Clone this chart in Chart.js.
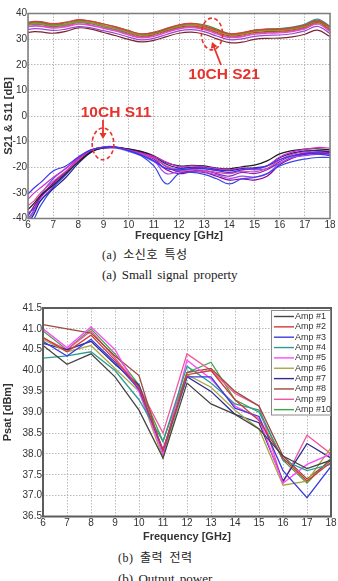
<!DOCTYPE html>
<html>
<head>
<meta charset="utf-8">
<script src="https://cdn.jsdelivr.net/npm/chart.js@4.4.1/dist/chart.umd.min.js"></script>
<style>
  html, body { margin: 0; padding: 0; background: #fff; width: 338px; height: 581px; overflow: hidden; position: relative; }
  .box { position: absolute; left: 0; width: 338px; }
  canvas { display: block; }
  .cap { position: absolute; white-space: nowrap; color: #222; font-family: "Liberation Serif", "Noto Sans CJK KR", serif; font-size: 13px; line-height: 13px; word-spacing: 2px; }
  .ko { font-size: 12px; letter-spacing: 0.5px; word-spacing: 3px; }
</style>
</head>
<body>
<div class="box" style="top:0;height:246px"><canvas id="chart-small"></canvas></div>
<div class="cap ko" style="left:102px;top:249px">(a) 소신호 특성</div>
<div class="cap" style="left:102px;top:268px">(a) Small signal property</div>
<div class="box" style="top:296px;height:250px"><canvas id="chart-psat"></canvas></div>
<div class="cap ko" style="left:118px;top:552px">(b) 출력 전력</div>
<div class="cap" style="left:118px;top:572px">(b) Output power</div>

<script>
// ---- (a) small signal, S21 / S11 of 10 channels ----
const freqSweep = [6, 6.25, 6.5, 7, 7.5, 8, 8.5, 9, 9.5, 10, 10.5, 11, 11.5, 12, 12.5, 13, 13.5, 14, 14.5, 15, 15.5, 16, 16.5, 17, 17.5, 18];

const s21Ch1  = [36.6, 36.9, 36.8, 36.1, 36.6, 37.6, 37.0, 35.9, 34.7, 33.2, 32.1, 32.7, 34.2, 35.6, 36.1, 35.2, 33.5, 32.1, 32.5, 33.5, 33.9, 34.0, 34.5, 35.6, 37.4, 34.8];
const s21Ch2  = [36.3, 36.6, 36.5, 35.8, 36.4, 37.4, 36.9, 35.9, 34.8, 33.3, 32.0, 32.5, 34.0, 35.5, 36.2, 35.6, 33.9, 32.2, 32.4, 33.4, 33.8, 33.9, 34.4, 35.4, 37.0, 34.9];
const s21Ch3  = [36.0, 36.3, 36.2, 35.5, 36.0, 37.0, 36.5, 35.4, 34.3, 32.8, 31.7, 32.3, 33.8, 35.2, 35.7, 34.9, 33.2, 31.8, 32.1, 33.1, 33.5, 33.6, 34.1, 35.2, 36.9, 34.5];
const s21Ch4  = [35.8, 36.1, 36.0, 35.3, 35.8, 36.8, 36.3, 35.2, 34.1, 32.6, 31.5, 32.1, 33.6, 35.0, 35.5, 34.7, 33.0, 31.6, 31.9, 32.9, 33.3, 33.4, 33.9, 35.0, 36.8, 34.2];
const s21Ch5  = [35.6, 35.9, 35.8, 35.2, 35.6, 36.6, 36.1, 35.0, 33.9, 32.5, 31.5, 32.2, 33.7, 35.1, 35.6, 34.8, 33.1, 31.8, 32.3, 33.4, 33.9, 34.1, 34.7, 35.8, 37.8, 35.0];
const s21Ch6  = [35.5, 35.8, 35.7, 35.0, 35.5, 36.5, 36.0, 34.9, 33.8, 32.3, 31.2, 31.8, 33.3, 34.7, 35.2, 34.4, 32.7, 31.3, 31.6, 32.6, 33.0, 33.1, 33.6, 34.7, 36.5, 33.8];
const s21Ch7  = [34.8, 35.1, 35.0, 34.3, 34.8, 35.8, 35.3, 34.2, 33.1, 31.6, 30.5, 31.1, 32.6, 34.0, 34.5, 33.7, 32.0, 30.6, 30.9, 31.9, 32.3, 32.4, 32.9, 34.0, 35.8, 33.0];
const s21Ch8  = [35.0, 35.3, 35.2, 34.6, 35.1, 36.0, 35.5, 34.4, 33.3, 31.9, 30.8, 31.4, 32.9, 34.3, 34.8, 34.0, 32.3, 30.9, 31.2, 32.2, 32.6, 32.7, 33.2, 34.3, 36.1, 33.4];
const s21Ch9  = [33.8, 34.1, 34.0, 33.4, 33.9, 34.9, 34.4, 33.3, 32.2, 30.8, 29.7, 30.3, 31.8, 33.2, 33.7, 32.9, 31.2, 29.8, 30.1, 31.1, 31.5, 31.6, 32.1, 33.2, 35.0, 32.2];
const s21Ch10 = [32.6, 32.9, 32.8, 32.3, 33.0, 34.4, 33.9, 32.6, 31.3, 29.9, 28.9, 29.5, 31.0, 32.3, 32.7, 31.9, 30.1, 28.6, 28.8, 29.9, 30.3, 30.4, 30.9, 31.9, 33.5, 31.0];

const s11Ch1  = [-30.5, -28, -26, -21.5, -19.5, -16, -13.2, -12.3, -12.2, -13.5, -15.2, -17.5, -20.5, -21, -20.5, -20.5, -21.3, -22, -21, -20.5, -19.5, -17, -15.5, -14.8, -14.8, -15.5];
const s11Ch2  = [-32.5, -30, -28, -24, -20.5, -16.5, -13.3, -12.2, -12.3, -13.2, -14.5, -15.8, -18, -19.8, -19.5, -19.8, -20.5, -21, -20.2, -20.8, -19.5, -16, -14, -13, -12.3, -12.5];
const s11Ch3  = [-36.5, -34, -31, -27, -22.5, -18, -14, -12.4, -12.3, -12.8, -13.8, -15.5, -18.2, -19.5, -19.3, -19.5, -20.3, -20.6, -19.8, -19.2, -17.5, -14.8, -13.5, -12.9, -12.8, -13.2];
const s11Ch4  = [-42, -38, -33, -28.5, -24, -18.5, -14.2, -12.5, -12.3, -13, -14, -15.8, -18.8, -20.3, -20, -20, -20.8, -21.3, -20.5, -20.2, -19.4, -16.3, -14.5, -13.6, -13.5, -14];
const s11Ch5  = [-35, -33, -30, -25.5, -21.5, -17.2, -13.8, -12.5, -12.4, -13.3, -14.8, -16.5, -19.5, -21.2, -20.8, -21.2, -22, -22.5, -21.5, -21.8, -20.5, -17.2, -15, -14, -13.5, -13.7];
const s11Ch6  = [-38, -36, -32, -26.5, -22, -17, -13.5, -12.2, -12.2, -13, -14.3, -16.3, -19.8, -21.8, -21.5, -21.3, -22.5, -23.5, -22, -22.5, -21, -17.8, -15.5, -14.5, -14, -14.2];
const s11Ch7  = [-44, -40, -35, -28, -23, -17.5, -13.5, -12, -12, -13.2, -15.5, -19.5, -26.5, -22.5, -22, -22.8, -24.5, -26.5, -24.5, -24, -22.5, -19.5, -17.8, -16.8, -16.2, -16.2];
const s11Ch8  = [-41, -37, -33, -27.5, -22.8, -17.8, -13.8, -12.3, -12.2, -13.5, -15, -17.5, -22.5, -21.5, -21, -21.8, -23, -24.3, -23.5, -23.8, -22.5, -18.5, -16.2, -15.5, -15, -15];
const s11Ch9  = [-39, -35, -31.5, -26, -21.8, -17, -13.5, -12.3, -12.3, -13.4, -14.8, -16.8, -21, -22.5, -21.8, -22, -23.5, -25, -24.5, -25, -23.5, -19, -16.5, -15, -14.5, -14.8];
const s11Ch10 = [-40, -36.5, -31, -24.5, -20.5, -16.2, -13.2, -12.4, -12.5, -13.8, -15.5, -17.8, -20.5, -20.5, -20.2, -20.5, -21.2, -21, -20.5, -21, -20.5, -18.5, -16, -14.5, -14.2, -14.5];

const smallXTicks = [6, 7, 8, 9, 10, 11, 12, 13, 14, 15, 16, 17, 18];
const smallYTicks = [-40, -30, -20, -10, 0, 10, 20, 30, 40];

// ---- (b) output power, 10 amps ----
const psatFreq = [6, 7, 8, 9, 10, 11, 12, 13, 14, 15, 16, 17, 18];
const ampLabels = ['Amp #1', 'Amp #2', 'Amp #3', 'Amp #4', 'Amp #5', 'Amp #6', 'Amp #7', 'Amp #8', 'Amp #9', 'Amp #10'];
const amp1  = [40.6, 40.15, 40.4, 39.85, 39.05, 37.9, 39.7, 39.2, 38.95, 38.6, 37.95, 37.65, 37.85];
const amp2  = [40.8, 40.45, 40.85, 40.25, 39.6, 38.1, 39.9, 40.0, 39.3, 38.8, 37.9, 37.35, 37.8];
const amp3  = [40.7, 40.35, 40.75, 40.2, 39.55, 38.1, 39.85, 39.85, 39.1, 38.9, 37.6, 36.95, 37.7];
const amp4  = [40.3, 40.35, 40.45, 40.0, 39.3, 38.3, 40.1, 39.7, 39.2, 39.05, 37.85, 37.6, 37.75];
const amp5  = [41.0, 40.55, 41.05, 40.5, 39.5, 38.0, 40.25, 39.8, 39.15, 38.85, 37.3, 37.75, 38.0];
const amp6  = [40.75, 40.45, 40.6, 40.05, 39.5, 37.9, 39.9, 39.6, 39.05, 38.6, 37.25, 37.35, 38.15];
const amp7  = [40.65, 40.5, 40.7, 40.15, 39.65, 38.0, 39.85, 39.5, 38.95, 38.75, 37.35, 38.25, 37.9];
const amp8  = [41.1, 41.0, 40.9, 40.35, 39.88, 38.0, 39.95, 40.05, 39.5, 39.15, 37.95, 37.4, 37.85];
const amp9  = [40.78, 40.5, 40.95, 40.3, 39.6, 38.5, 40.4, 40.0, 39.45, 39.15, 37.3, 38.45, 38.0];
const amp10 = [40.95, 40.5, 41.0, 40.4, 39.65, 38.3, 39.95, 40.2, 39.3, 39.0, 37.85, 37.3, 37.9];
const psatYTicks = [36.5, 37.0, 37.5, 38.0, 38.5, 39.0, 39.5, 40.0, 40.5, 41.0, 41.5];

const s21Colors = ['#e03c3c', '#3d8a35', '#8e8e2e', '#e47a22', '#22a5a8', '#8b4a1e', '#e046d8', '#e85a86', '#9a4ac8', '#7c2432'];
const s11Colors = ['#3535ee', '#d22ad2', '#1e1e1e', '#22228a', '#e2449a', '#8624c4', '#3a48e4', '#a048f2', '#930093', '#4a66ff'];
const ampColors = ['#454545', '#d23a3a', '#3c3ce0', '#2a9d94', '#ff48ff', '#a8a842', '#2e2e92', '#9c4a3c', '#f2569c', '#40a444'];

const FONT = '"Liberation Sans", Arial, sans-serif';
const GRID = { color: '#b9b9b9', lineWidth: 1, drawTicks: false };

function toPoints(ys, xs) {
  return ys.map((y, i) => ({ x: xs[i], y: y }));
}

const framePlugin = {
  id: 'frame',
  afterDatasetsDraw(chart, args, opts) {
    const a = chart.chartArea, ctx = chart.ctx;
    ctx.save();
    ctx.strokeStyle = opts.color;
    ctx.lineWidth = opts.width;
    ctx.strokeRect(a.left, a.top, a.right - a.left, a.bottom - a.top);
    ctx.restore();
  }
};

// red callouts on the small-signal plot
const calloutPlugin = {
  id: 'callouts',
  afterDraw(chart) {
    const ctx = chart.ctx, sx = chart.scales.x, sy = chart.scales.y;
    const px = v => sx.getPixelForValue(v), py = v => sy.getPixelForValue(v);
    const red = '#e8322c';
    const marks = [
      { text: '10CH S21', tx: 13.79, ty: 16.0, cx: 13.31, cy: 32.0, rx: 0.42, ry: 6.2, a0: [13.67, 19.9], a1: [13.31, 28.9] },
      { text: '10CH S11', tx: 9.5, ty: 1.2, cx: 8.98, cy: -10.9, rx: 0.43, ry: 6.2, a0: [8.98, -1.6], a1: [8.98, -9.0] }
    ];
    ctx.save();
    marks.forEach(m => {
      ctx.strokeStyle = red;
      ctx.fillStyle = red;
      ctx.lineWidth = 1.6;
      ctx.setLineDash([4, 2.5]);
      ctx.beginPath();
      ctx.ellipse(px(m.cx), py(m.cy), Math.abs(px(m.cx + m.rx) - px(m.cx)), Math.abs(py(m.cy + m.ry) - py(m.cy)), 0, 0, Math.PI * 2);
      ctx.stroke();
      ctx.setLineDash([]);
      const x0 = px(m.a0[0]), y0 = py(m.a0[1]), x1 = px(m.a1[0]), y1 = py(m.a1[1]);
      const ang = Math.atan2(y1 - y0, x1 - x0);
      ctx.lineWidth = 1.8;
      ctx.beginPath();
      ctx.moveTo(x0, y0);
      ctx.lineTo(x1 - 3 * Math.cos(ang), y1 - 3 * Math.sin(ang));
      ctx.stroke();
      ctx.beginPath();
      ctx.moveTo(x1, y1);
      ctx.lineTo(x1 - 6 * Math.cos(ang) + 3.5 * Math.sin(ang), y1 - 6 * Math.sin(ang) - 3.5 * Math.cos(ang));
      ctx.lineTo(x1 - 6 * Math.cos(ang) - 3.5 * Math.sin(ang), y1 - 6 * Math.sin(ang) + 3.5 * Math.cos(ang));
      ctx.closePath();
      ctx.fill();
      ctx.font = 'bold 15.5px ' + FONT;
      ctx.textAlign = 'center';
      ctx.textBaseline = 'middle';
      ctx.fillText(m.text, px(m.tx), py(m.ty));
    });
    ctx.restore();
  }
};

// boxed legend inside the top-right corner of the Psat plot
const boxLegendPlugin = {
  id: 'boxLegend',
  afterDraw(chart) {
    const ctx = chart.ctx, a = chart.chartArea;
    const sets = chart.data.datasets;
    const w = 60, rowH = 10.35, h = sets.length * rowH + 2;
    const left = a.right - w, top = a.top + 2;
    ctx.save();
    ctx.fillStyle = '#fff';
    ctx.fillRect(left, top, w, h);
    ctx.strokeStyle = '#8a8a8a';
    ctx.lineWidth = 1;
    ctx.strokeRect(left + 0.5, top + 0.5, w - 1, h - 1);
    ctx.font = '9px ' + FONT;
    ctx.textBaseline = 'middle';
    sets.forEach((ds, i) => {
      const y = top + 6.5 + i * rowH;
      ctx.strokeStyle = ds.borderColor;
      ctx.lineWidth = 1.4;
      ctx.beginPath();
      ctx.moveTo(left + 3, y);
      ctx.lineTo(left + 23, y);
      ctx.stroke();
      ctx.fillStyle = '#333';
      ctx.fillText(ds.label, left + 24, y);
    });
    ctx.restore();
  }
};

function linearX(ticks, height, titlePad) {
  return {
    type: 'linear', min: 6, max: 18,
    afterBuildTicks: s => { s.ticks = ticks.map(v => ({ value: v })); },
    afterFit: s => { s.height = height; },
    grid: GRID,
    border: { display: false, dash: [1.5, 1.5] },
    ticks: { padding: 1, color: '#333', font: { family: FONT, size: 10 }, maxRotation: 0 },
    title: { display: true, text: 'Frequency [GHz]', color: '#333', font: { family: FONT, size: 11, weight: 'bold' }, padding: { top: 0, bottom: titlePad } }
  };
}

function linearY(ticks, width, label, titlePad, fmt) {
  return {
    type: 'linear', min: ticks[0], max: ticks[ticks.length - 1],
    afterBuildTicks: s => { s.ticks = ticks.map(v => ({ value: v })); },
    afterFit: s => { s.width = width; },
    grid: GRID,
    border: { display: false, dash: [1.5, 1.5] },
    ticks: { padding: 1, color: '#333', font: { family: FONT, size: 10 }, callback: fmt },
    title: { display: true, text: label, color: '#333', font: { family: FONT, size: 11, weight: 'bold' }, padding: { top: titlePad, bottom: 0 } }
  };
}

const s21Sets = [s21Ch1, s21Ch2, s21Ch3, s21Ch4, s21Ch5, s21Ch6, s21Ch7, s21Ch8, s21Ch9, s21Ch10];
const s11Sets = [s11Ch1, s11Ch2, s11Ch3, s11Ch4, s11Ch5, s11Ch6, s11Ch7, s11Ch8, s11Ch9, s11Ch10];

const smallDatasets = [];
s21Sets.forEach((ys, i) => smallDatasets.push({
  label: 'S21 CH' + (i + 1), data: toPoints(ys, freqSweep),
  borderColor: s21Colors[i], borderWidth: 1.2, pointRadius: 0, tension: 0.4, fill: false
}));
s11Sets.forEach((ys, i) => smallDatasets.push({
  label: 'S11 CH' + (i + 1), data: toPoints(ys, freqSweep),
  borderColor: s11Colors[i], borderWidth: 1.2, pointRadius: 0, tension: 0.4, fill: false
}));

new Chart(document.getElementById('chart-small'), {
  type: 'line',
  data: { datasets: smallDatasets },
  options: {
    responsive: true, maintainAspectRatio: false, animation: false,
    layout: { padding: { top: 13.5, right: 8, left: 0, bottom: 0 } },
    plugins: { legend: { display: false }, tooltip: { enabled: false }, frame: { color: '#7c7c7c', width: 1.5 } },
    scales: {
      x: linearX(smallXTicks, 27.5, 3.4),
      y: linearY(smallYTicks, 28, 'S21 & S11 [dB]', 2.4, v => v)
    }
  },
  plugins: [framePlugin, calloutPlugin]
});

const ampSets = [amp1, amp2, amp3, amp4, amp5, amp6, amp7, amp8, amp9, amp10];

new Chart(document.getElementById('chart-psat'), {
  type: 'line',
  data: {
    datasets: ampSets.map((ys, i) => ({
      label: ampLabels[i], data: toPoints(ys, psatFreq),
      borderColor: ampColors[i], borderWidth: 1.3, pointRadius: 0, tension: 0, fill: false
    }))
  },
  options: {
    responsive: true, maintainAspectRatio: false, animation: false,
    layout: { padding: { top: 12, right: 7, left: 0, bottom: 0 } },
    plugins: { legend: { display: false }, tooltip: { enabled: false }, frame: { color: '#5c5c5c', width: 2 } },
    scales: {
      x: linearX(smallXTicks, 29.5, 2.4),
      y: linearY(psatYTicks, 43, 'Psat [dBm]', 1.4, v => Number(v).toFixed(1))
    }
  },
  plugins: [framePlugin, boxLegendPlugin]
});
</script>
</body>
</html>
